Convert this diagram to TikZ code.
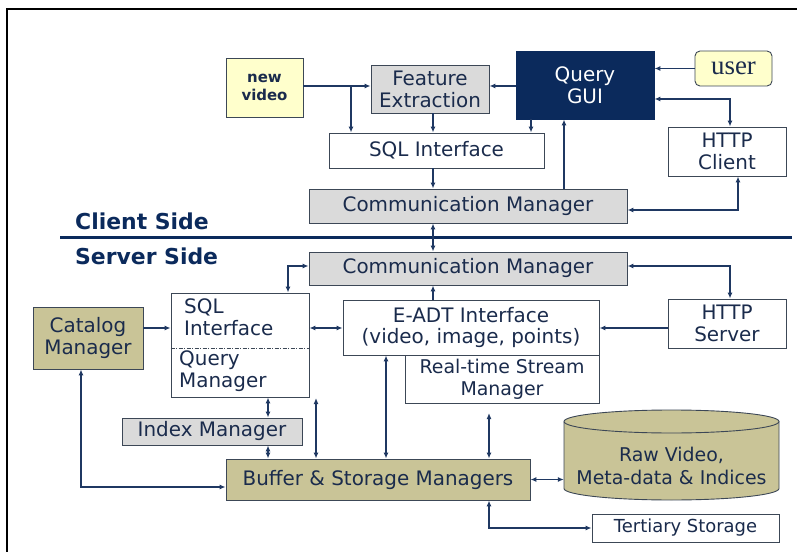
\documentclass[tikz,border=0pt]{standalone}
\usepackage{fontspec}
\setmainfont{DejaVu Sans}
\newfontfamily\serifface{Liberation Serif}
\usetikzlibrary{arrows.meta}

\definecolor{navy}{HTML}{0B2A5C}
\definecolor{ink}{HTML}{1A2B4C}
\definecolor{wire}{HTML}{1F3862}
\definecolor{edge}{HTML}{3C4756}
\definecolor{greyfill}{HTML}{DADADA}
\definecolor{olive}{HTML}{C9C497}
\definecolor{cream}{HTML}{FFFFCC}

\begin{document}
\begin{tikzpicture}[x=1bp,y=-1bp,
  box/.style={draw=edge, line width=0.9bp, inner sep=0pt, text=ink, align=center,
              font=\fontsize{20}{22}\selectfont},
  greybox/.style={box, fill=greyfill},
  olivebox/.style={box, fill=olive},
  plainbox/.style={box, fill=white},
  txt/.style={inner sep=0pt, text=ink, align=left, font=\fontsize{20}{22}\selectfont},
  arr/.style={draw=wire, line width=1.2bp, -{Latex[length=6bp,width=5bp]}},
  dar/.style={draw=wire, line width=1.2bp, {Latex[length=6bp,width=5bp]}-{Latex[length=6bp,width=5bp]}},
  sidelabel/.style={inner sep=0pt, anchor=base west, text=navy, font=\fontsize{22}{24}\bfseries\selectfont}
]
\useasboundingbox (0,0) rectangle (797,552);

% outer frame
\draw[line width=2.5bp, black] (7,552) -- (7,9) -- (797,9);

% client / server separator
\draw[line width=3bp, navy] (60,238) -- (792,238);
\node[sidelabel] (client) at (75,230) {Client Side};
\node[sidelabel] (server) at (75,265) {Server Side};

% ---------- client side ----------
\node[box, fill=cream, minimum width=77bp, minimum height=59bp,
      font=\fontsize{15}{18}\bfseries\selectfont] (newvid) at (264.5,87.5) {new\\video};
\node[greybox, minimum width=118bp, minimum height=48bp] (fe) at (430,89) {Feature\\Extraction};
\node[box, fill=navy, draw=navy, text=white, minimum width=138bp, minimum height=68bp] (gui) at (585,85) {Query\\GUI};
\node[box, fill=cream, rounded corners=5bp, minimum width=77bp, minimum height=35bp,
      font=\serifface\fontsize{27}{28}\selectfont] (user) at (733.5,68.5) {user};
\node[plainbox, minimum width=215bp, minimum height=35bp] (sqlc) at (436.5,150.5) {SQL Interface};
\node[plainbox, minimum width=118bp, minimum height=49bp] (httpc) at (727,151.5) {HTTP\\Client};
\node[greybox, minimum width=318bp, minimum height=34bp] (cmc) at (468,206) {Communication Manager};

% ---------- server side ----------
\node[greybox, minimum width=318bp, minimum height=33bp] (cms) at (468,268.5) {Communication Manager};
\node[plainbox, minimum width=138bp, minimum height=104bp] (sqls) at (240,345) {};
\node[txt, anchor=north west] (sqltxt) at (184,299) {SQL\\Interface};
\node[txt, anchor=north west] (qmtxt) at (179,351) {Query\\Manager};
\node[olivebox, minimum width=110bp, minimum height=62bp] (cat) at (88,338) {Catalog\\Manager};
\node[plainbox, minimum width=256bp, minimum height=55bp] (eadt) at (471,327.5) {E-ADT Interface\\(video, image, points)};
\node[plainbox, minimum width=194bp, minimum height=48bp, font=\fontsize{19}{22}\selectfont] (rtsm) at (502,379) {Real-time Stream\\Manager};
\node[plainbox, minimum width=118bp, minimum height=49bp] (https) at (727,323.5) {HTTP\\Server};
\node[greybox, minimum width=180bp, minimum height=27bp] (idx) at (212,431.5) {Index Manager};
\node[olivebox, minimum width=304bp, minimum height=41bp] (buf) at (378,479.5) {Buffer \& Storage Managers};

% storage cylinder: body, bottom rim, then the full top ellipse
\fill[olive] (564,421.5) -- (564,488.5)
  arc[start angle=180, end angle=0, x radius=107.5, y radius=11.5]
  -- (779,421.5)
  arc[start angle=0, end angle=-180, x radius=107.5, y radius=11.5] -- cycle;
\draw[edge, line width=0.9bp] (564,421.5) -- (564,488.5)
  arc[start angle=180, end angle=0, x radius=107.5, y radius=11.5]
  -- (779,421.5);
\draw[edge, line width=0.9bp] (671.5,421.5) ellipse[x radius=107.5, y radius=11.5];
\node[inner sep=0pt, text=ink, align=center, font=\fontsize{19}{23}\selectfont,
      minimum width=215bp, minimum height=90bp] (raw) at (671.5,466) {Raw Video,\\Meta-data \& Indices};
\node[plainbox, minimum width=187bp, minimum height=28bp, font=\fontsize{18}{20}\selectfont] (tert) at (685.5,528) {Tertiary Storage};

% guide coordinates for connector rows and columns
\coordinate (ya) at (0,86);
\coordinate (yb) at (0,99);
\coordinate (yc) at (0,210);
\coordinate (yd) at (0,266);
\coordinate (yf) at (0,328);
\coordinate (yg) at (0,487);
\coordinate (yh) at (0,348);
\coordinate (xa) at (351,0);
\coordinate (xb) at (433,0);
\coordinate (xc) at (531,0);
\coordinate (xd) at (564,0);
\coordinate (xe) at (730,0);
\coordinate (xf) at (738,0);
\coordinate (xg) at (288,0);
\coordinate (xh) at (268,0);
\coordinate (xi) at (316,0);
\coordinate (xj) at (386,0);
\coordinate (xk) at (489,0);
\coordinate (xl) at (81,0);
\coordinate (qmend) at (316,398);
\coordinate (rtend) at (489,413);

% divider between SQL Interface and Query Manager
\draw[edge, line width=0.8bp, dash pattern=on 4bp off 1.5bp on 1bp off 1.5bp] (yh -| sqls.west) -- (yh -| sqls.east);

% ---------- client connectors ----------
\draw[arr] (ya -| newvid.east) -- (ya -| fe.west);
\draw[arr] (ya -| xa) -- (sqlc.north -| xa);
\draw[arr] (ya -| gui.west) -- (ya -| fe.east);
\draw[arr] (fe.south -| xb) -- (sqlc.north -| xb);
\draw[arr] (gui.south -| xc) -- (sqlc.north -| xc);
\draw[arr] (sqlc.south -| xb) -- (cmc.north -| xb);
\draw[arr] (cmc.north -| xd) -- (gui.south -| xd);
\draw[arr] (user.west) -- (user.west -| gui.east);
\draw[dar] (yb -| gui.east) -| (httpc.north -| xe);
\draw[dar] (yc -| cmc.east) -| (httpc.south -| xf);
\draw[dar] (cmc.south -| xb) -- (cms.north -| xb);

% ---------- server connectors ----------
\draw[dar] (yd -| cms.east) -| (https.north -| xe);
\draw[dar] (yd -| cms.west) -| (sqls.north -| xg);
\draw[arr] (eadt.north -| xb) -- (cms.south -| xb);
\draw[arr] (yf -| https.west) -- (yf -| eadt.east);
\draw[arr] (yf -| cat.east) -- (yf -| sqls.west);
\draw[dar] (yf -| sqls.east) -- (yf -| eadt.west);
\draw[dar] (sqls.south -| xh) -- (idx.north -| xh);
\draw[dar] (idx.south -| xh) -- (buf.north -| xh);
\draw[dar] (qmend) -- (buf.north -| xi);
\draw[dar] (eadt.south -| xj) -- (buf.north -| xj);
\draw[dar] (rtend) -- (buf.north -| xk);
\draw[dar] (buf.east) -- (buf.east -| raw.west);
\draw[dar] (buf.south -| xk) |- (tert.west);
\draw[dar] (cat.south -| xl) |- (yg -| buf.west);
\end{tikzpicture}
\end{document}
